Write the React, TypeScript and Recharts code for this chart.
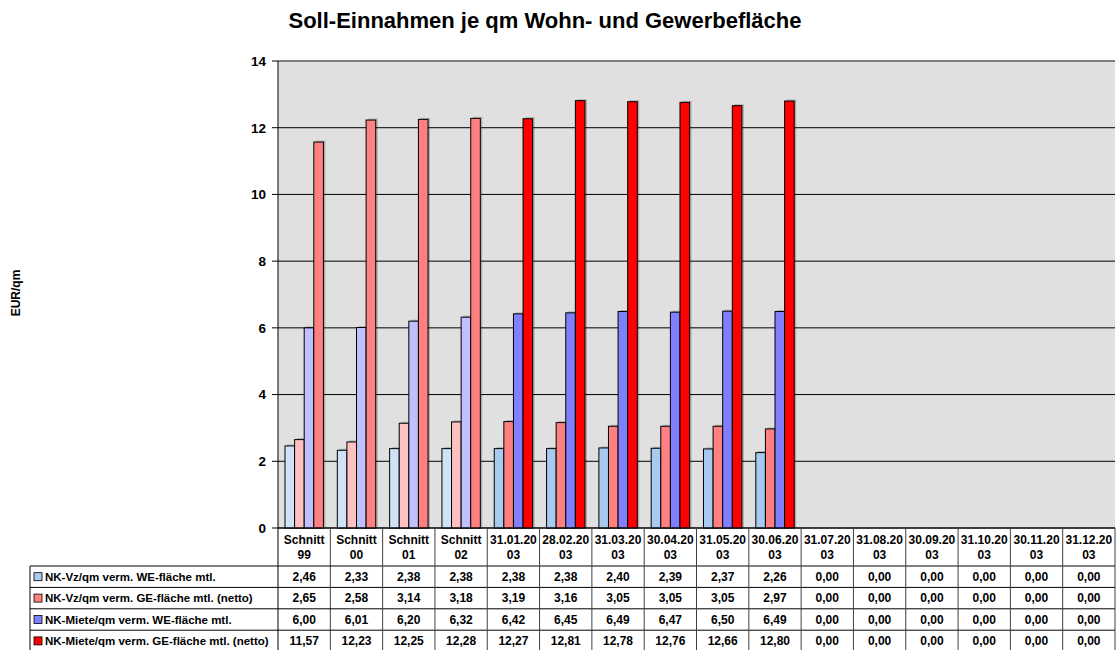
import React from 'react';
import { BarChart, Bar, XAxis, YAxis, CartesianGrid, ReferenceLine } from 'recharts';

const categories = [
  'Schnitt 99', 'Schnitt 00', 'Schnitt 01', 'Schnitt 02',
  '31.01.2003', '28.02.2003', '31.03.2003', '30.04.2003', '31.05.2003', '30.06.2003',
  '31.07.2003', '31.08.2003', '30.09.2003', '31.10.2003', '30.11.2003', '31.12.2003',
];

const seriesNames = [
  'NK-Vz/qm verm. WE-fläche mtl.',
  'NK-Vz/qm verm. GE-fläche mtl. (netto)',
  'NK-Miete/qm verm. WE-fläche mtl.',
  'NK-Miete/qm verm. GE-fläche mtl. (netto)',
];

const nkVzWE = [2.46, 2.33, 2.38, 2.38, 2.38, 2.38, 2.40, 2.39, 2.37, 2.26, 0, 0, 0, 0, 0, 0];
const nkVzGE = [2.65, 2.58, 3.14, 3.18, 3.19, 3.16, 3.05, 3.05, 3.05, 2.97, 0, 0, 0, 0, 0, 0];
const nkMieteWE = [6.00, 6.01, 6.20, 6.32, 6.42, 6.45, 6.49, 6.47, 6.50, 6.49, 0, 0, 0, 0, 0, 0];
const nkMieteGE = [11.57, 12.23, 12.25, 12.28, 12.27, 12.81, 12.78, 12.76, 12.66, 12.80, 0, 0, 0, 0, 0, 0];

const yTicks = [0, 2, 4, 6, 8, 10, 12, 14];

const seriesValues = [nkVzWE, nkVzGE, nkMieteWE, nkMieteGE];
const keys = ['s1', 's2', 's3', 's4'];

// first four groups (averages) are drawn in paler tones
const lightColors = ['#CFE2F8', '#FFC0C0', '#C0C0FF', '#FF8080'];
const darkColors = ['#A6CAF0', '#FF8080', '#8080FF', '#FF0000'];

const data = categories.map((cat, i) => ({
  cat,
  s1: nkVzWE[i],
  s2: nkVzGE[i],
  s3: nkMieteWE[i],
  s4: nkMieteGE[i],
}));

const FONT = 'Arial, "Liberation Sans", sans-serif';
const PLOT_LEFT = 278;
const PLOT_RIGHT = 1115;
const PLOT_TOP = 61;
const PLOT_BOTTOM = 528;
const BAND = (PLOT_RIGHT - PLOT_LEFT) / categories.length;
const TABLE_LEFT = 30;
const ROW_TOP = 566;
const ROW_H = 21.4;

const fmt = (v: number) => v.toFixed(2).replace('.', ',');

const wrapLabel = (s: string) => (s.includes(' ') ? s.split(' ') : [s.slice(0, 8), s.slice(8)]);

const makeShape = (s: number) => (props: any) => {
  const { x, y, width, height, index } = props;
  if (!height || height <= 0) return <g />;
  const fill = index < 4 ? lightColors[s] : darkColors[s];
  return (
    <g>
      <rect x={x + 2} y={y - 1.5} width={width} height={height + 1.5} fill="#000" opacity={0.22} />
      <rect x={x} y={y} width={width} height={height} fill={fill} stroke="#000" strokeWidth={1} />
    </g>
  );
};

const textStyle = { fontFamily: FONT, fontWeight: 'bold' as const, fontSize: 12, fill: '#000' };
const nameStyle = { ...textStyle, fontSize: 11.5 };

const TableTick = (props: any) => {
  const { x, payload } = props;
  const i = payload.index;
  const lines = wrapLabel(payload.value);
  const rows = [0, 1, 2, 3, 4].map((r) => ROW_TOP + r * ROW_H);
  return (
    <g>
      <line x1={x + BAND / 2} x2={x + BAND / 2} y1={PLOT_BOTTOM} y2={652} stroke="#404040" />
      {i === 0 && (
        <g>
          <line x1={x - BAND / 2} x2={x - BAND / 2} y1={PLOT_BOTTOM} y2={652} stroke="#000" />
          <line x1={TABLE_LEFT} x2={TABLE_LEFT} y1={ROW_TOP} y2={652} stroke="#000" />
          {rows.map((ry, r) => (
            <line key={r} x1={TABLE_LEFT} x2={PLOT_RIGHT} y1={ry} y2={ry} stroke="#000" />
          ))}
          {seriesNames.map((name, s) => (
            <g key={name}>
              <rect x={34} y={ROW_TOP + s * ROW_H + ROW_H / 2 - 4} width={8} height={8}
                fill={darkColors[s]} stroke="#000" strokeWidth={0.8} />
              <text x={45} y={ROW_TOP + s * ROW_H + ROW_H / 2 + 4.2} style={nameStyle} textAnchor="start">
                {name}
              </text>
            </g>
          ))}
        </g>
      )}
      <text x={x} y={544} style={textStyle} textAnchor="middle">{lines[0]}</text>
      <text x={x} y={559} style={textStyle} textAnchor="middle">{lines[1]}</text>
      {seriesValues.map((vals, s) => (
        <text key={s} x={x} y={ROW_TOP + s * ROW_H + ROW_H / 2 + 4.3} style={textStyle} textAnchor="middle">
          {fmt(vals[i])}
        </text>
      ))}
    </g>
  );
};

export default function App() {
  return (
    <div style={{ position: 'absolute', left: 0, top: 0, width: 1118, height: 650, background: '#fff', overflow: 'hidden' }}>
      <div style={{ position: 'absolute', left: 0, top: 8, width: 1090, textAlign: 'center', fontFamily: FONT, fontWeight: 'bold', fontSize: 22, lineHeight: '26px' }}>
        Soll-Einnahmen je qm Wohn- und Gewerbefläche
      </div>
      <div style={{ position: 'absolute', left: 16, top: 293, transform: 'translate(-50%, -50%) rotate(-90deg)', fontFamily: FONT, fontWeight: 'bold', fontSize: 12, whiteSpace: 'nowrap' }}>
        EUR/qm
      </div>
      <BarChart
        width={1118}
        height={650}
        data={data}
        margin={{ top: PLOT_TOP, right: 1118 - PLOT_RIGHT, left: PLOT_LEFT - 40, bottom: 0 }}
        barGap={0}
        barCategoryGap="13%"
        style={{ position: 'absolute', left: 0, top: 0 }}
      >
        <CartesianGrid vertical={false} stroke="#000" fill="#E0E0E0" fillOpacity={1} />
        <XAxis
          dataKey="cat"
          height={650 - PLOT_BOTTOM}
          interval={0}
          tickLine={false}
          axisLine={{ stroke: '#000' }}
          tick={<TableTick />}
        />
        <YAxis
          width={40}
          domain={[0, 14]}
          ticks={yTicks}
          interval={0}
          tickSize={6}
          tickMargin={6}
          axisLine={{ stroke: '#000' }}
          tickLine={{ stroke: '#000' }}
          tick={{ fontFamily: FONT, fontWeight: 'bold', fontSize: 13.5, fill: '#000' }}
        />
        <YAxis yAxisId="right" orientation="right" width={0} tick={false} tickLine={false} axisLine={{ stroke: '#808080' }} />
        <ReferenceLine y={14} stroke="#808080" strokeWidth={1.5} />
        {keys.map((k, s) => (
          <Bar key={k} dataKey={k} barSize={9.6} isAnimationActive={false} shape={makeShape(s)} />
        ))}
      </BarChart>
    </div>
  );
}
